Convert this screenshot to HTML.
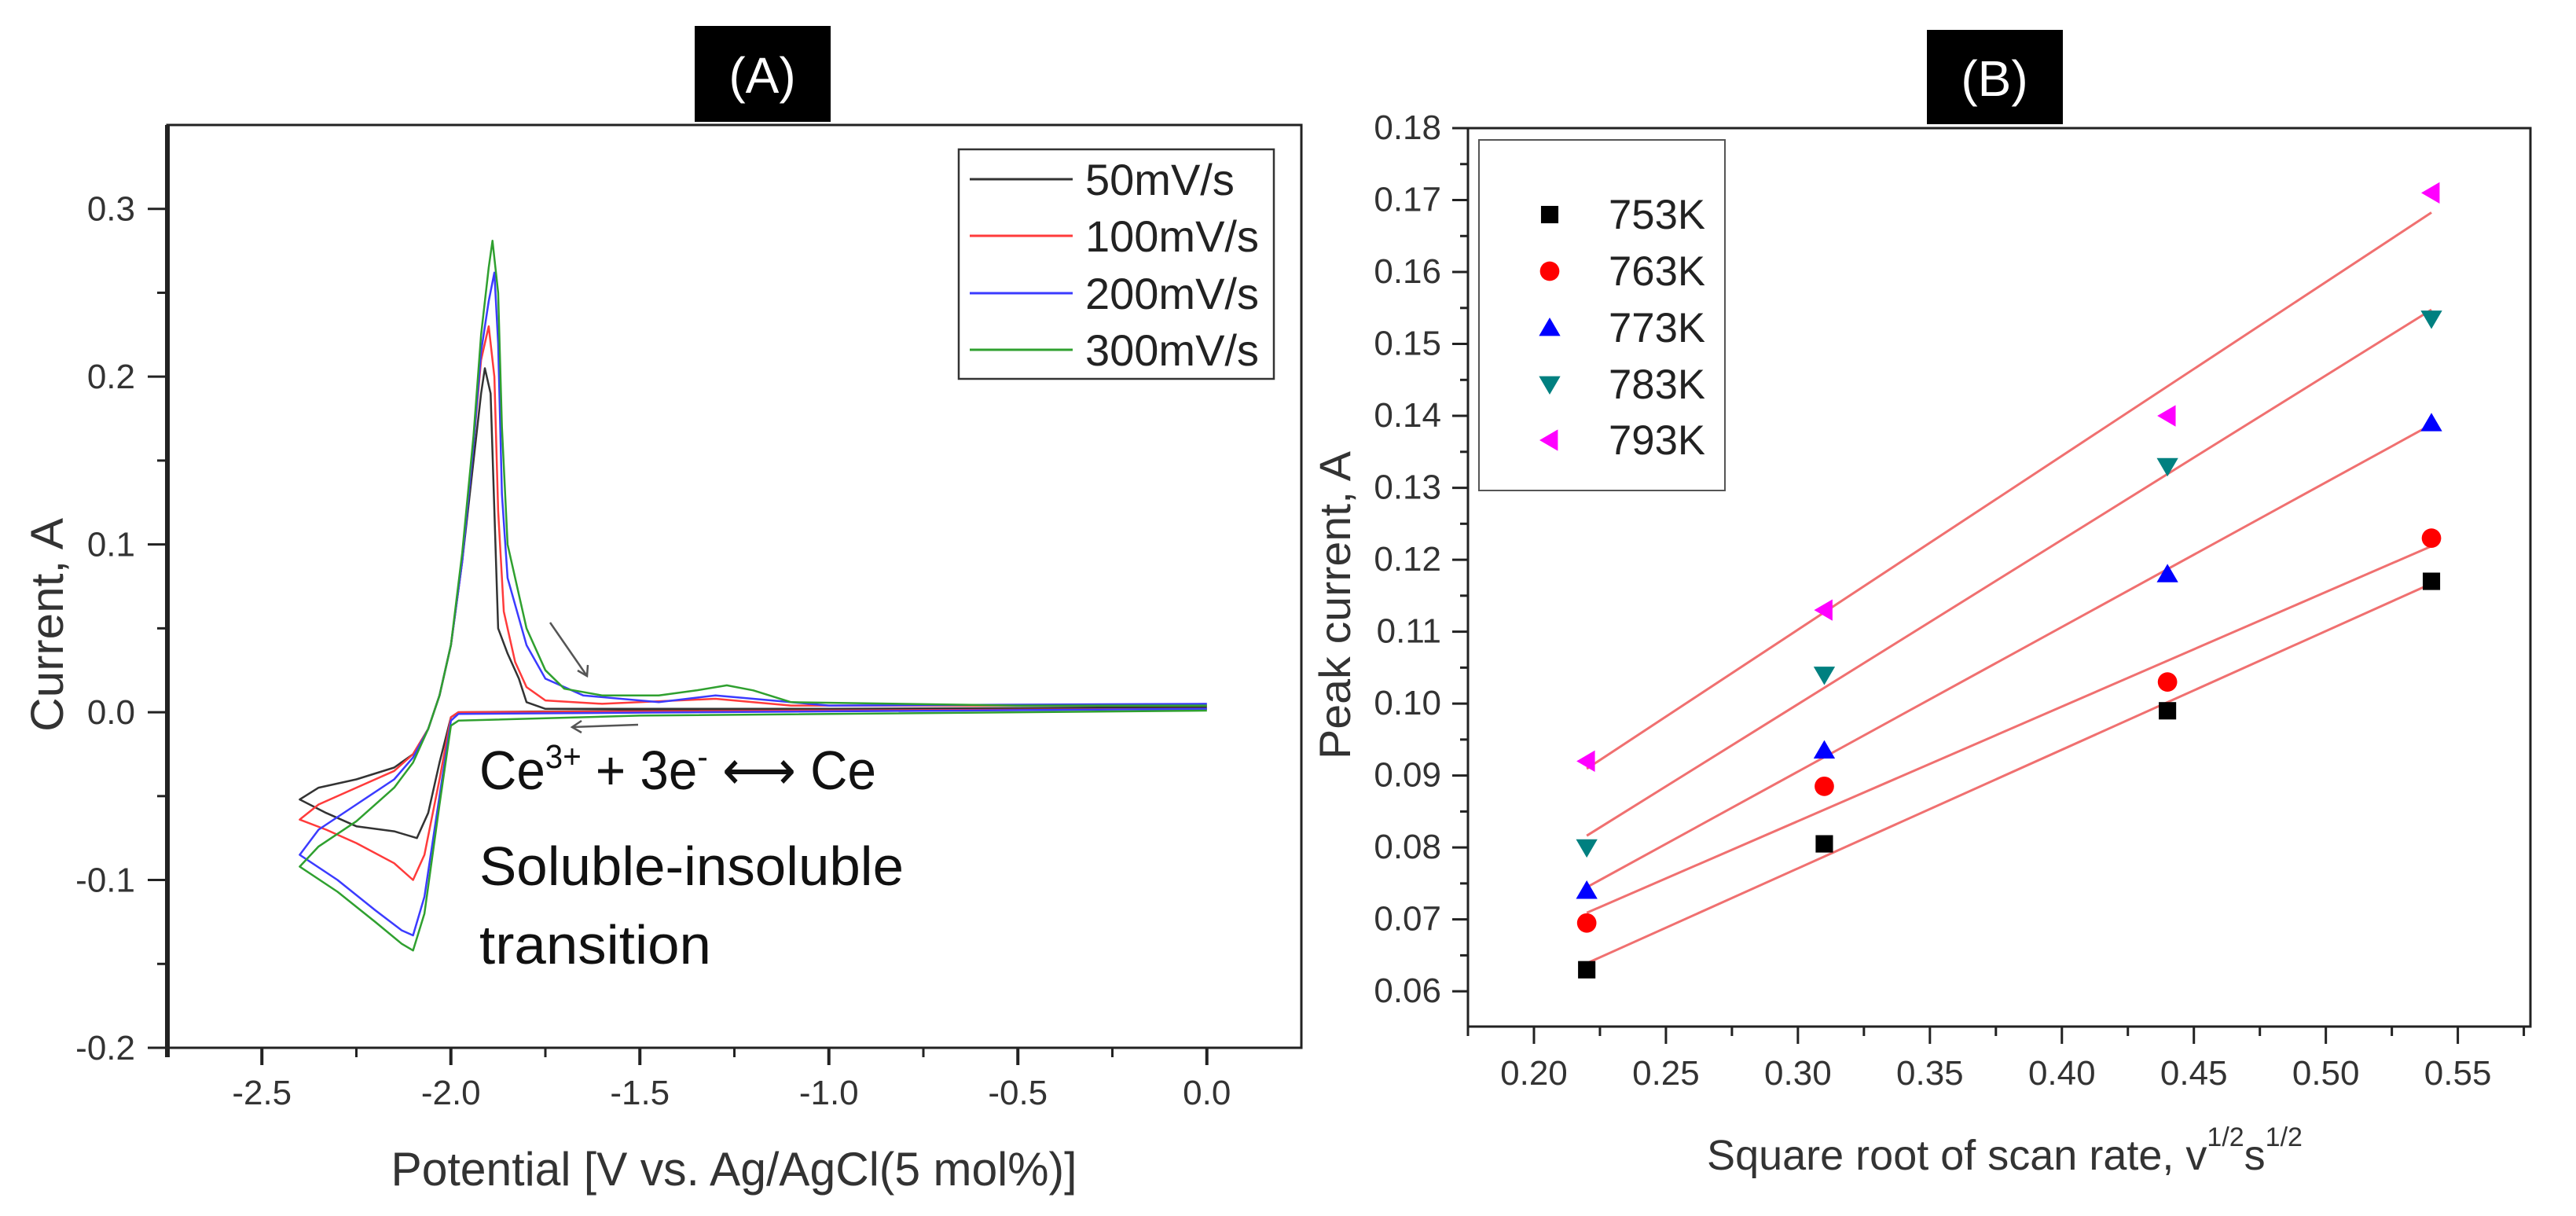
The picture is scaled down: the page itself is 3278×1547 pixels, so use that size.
<!DOCTYPE html>
<html><head><meta charset="utf-8"><style>
html,body{margin:0;padding:0;background:#fff;}
svg{display:block;font-family:"Liberation Sans",Arial,sans-serif;}
</style></head><body>
<svg id="fig" width="3278" height="1547" viewBox="0 0 3278 1547" xmlns="http://www.w3.org/2000/svg">
<g>
<rect x="884" y="33" width="173" height="122" fill="#000"/>
<text x="970" y="118" font-size="64" fill="#fff" text-anchor="middle">(A)</text>
</g>
<g>
<rect x="2452" y="38" width="173" height="120" fill="#000"/>
<text x="2538" y="122" font-size="64" fill="#fff" text-anchor="middle">(B)</text>
</g>
<g id="chartA"></g>
<g id="chartB"></g>
</svg>
<script>
// ---------- Panel A data ----------
const cvRates = ["50mV/s","100mV/s","200mV/s","300mV/s"];
const cvColors = ["#333333","#ff3b3b","#3b3bff","#2fa02f"];
const cv50 = [[0,0.002],[-1.5,0.001],[-1.98,0.0],[-2.0,-0.003],[-2.03,-0.03],[-2.06,-0.06],[-2.09,-0.075],[-2.15,-0.071],[-2.25,-0.068],[-2.33,-0.06],[-2.4,-0.052],
 [-2.35,-0.045],[-2.25,-0.04],[-2.15,-0.033],[-2.1,-0.025],[-2.06,-0.01],[-2.03,0.01],[-2.0,0.04],[-1.97,0.09],[-1.94,0.15],[-1.92,0.19],[-1.91,0.205],[-1.895,0.19],[-1.885,0.12],[-1.875,0.05],[-1.85,0.035],[-1.82,0.02],[-1.8,0.006],[-1.75,0.002],[-1.0,0.002],[0,0.003]];
const cv100 = [[0,0.002],[-1.98,0],[-2.0,-0.003],[-2.03,-0.04],[-2.07,-0.085],[-2.1,-0.1],[-2.15,-0.09],[-2.25,-0.078],[-2.33,-0.07],[-2.4,-0.064],
 [-2.35,-0.055],[-2.25,-0.045],[-2.15,-0.035],[-2.1,-0.025],[-2.06,-0.01],[-2.03,0.01],[-2.0,0.04],[-1.97,0.09],[-1.94,0.16],[-1.92,0.21],[-1.9,0.23],[-1.885,0.2],[-1.875,0.12],[-1.86,0.06],[-1.83,0.03],[-1.8,0.015],[-1.75,0.007],[-1.6,0.005],[-1.3,0.008],[-1.1,0.004],[0,0.004]];
const cv200 = [[0,0.002],[-1.98,-0.001],[-2.0,-0.005],[-2.03,-0.05],[-2.07,-0.11],[-2.1,-0.133],[-2.13,-0.13],[-2.2,-0.118],[-2.3,-0.1],[-2.4,-0.085],
 [-2.35,-0.07],[-2.25,-0.055],[-2.15,-0.04],[-2.1,-0.027],[-2.06,-0.01],[-2.03,0.01],[-2.0,0.04],[-1.97,0.09],[-1.94,0.16],[-1.92,0.215],[-1.9,0.245],[-1.885,0.262],[-1.875,0.22],[-1.865,0.13],[-1.85,0.08],[-1.8,0.04],[-1.75,0.02],[-1.65,0.01],[-1.45,0.006],[-1.3,0.01],[-1.2,0.008],[-1.0,0.004],[0,0.005]];
const cv300 = [[0,0.001],[-1.5,-0.002],[-1.98,-0.005],[-2.0,-0.008],[-2.03,-0.055],[-2.07,-0.12],[-2.1,-0.142],[-2.13,-0.138],[-2.2,-0.125],[-2.3,-0.107],[-2.4,-0.092],
 [-2.35,-0.08],[-2.25,-0.065],[-2.15,-0.045],[-2.1,-0.03],[-2.06,-0.01],[-2.03,0.01],[-2.0,0.04],[-1.97,0.095],[-1.94,0.165],[-1.92,0.225],[-1.9,0.265],[-1.89,0.281],[-1.875,0.25],[-1.865,0.17],[-1.85,0.1],[-1.8,0.05],[-1.75,0.025],[-1.7,0.014],[-1.6,0.01],[-1.45,0.01],[-1.35,0.013],[-1.27,0.016],[-1.2,0.013],[-1.1,0.006],[-0.5,0.004],[0,0.004]];
const cvXTicks = [-2.5,-2.0,-1.5,-1.0,-0.5,0.0];
const cvXTickLabels = ["-2.5","-2.0","-1.5","-1.0","-0.5","0.0"];
const cvYTicks = [-0.2,-0.1,0.0,0.1,0.2,0.3];
const cvYTickLabels = ["-0.2","-0.1","0.0","0.1","0.2","0.3"];

// ---------- Panel B data ----------
const tempLabels = ["753K","763K","773K","783K","793K"];
const scanRoots = [0.22,0.31,0.44,0.54];
const ip753 = [0.063,0.0805,0.099,0.117];
const ip763 = [0.0695,0.0885,0.103,0.123];
const ip773 = [0.074,0.0935,0.118,0.139];
const ip783 = [0.080,0.104,0.133,0.1535];
const ip793 = [0.092,0.113,0.140,0.171];
const bXTicks = [0.20,0.25,0.30,0.35,0.40,0.45,0.50,0.55];
const bXTickLabels = ["0.20","0.25","0.30","0.35","0.40","0.45","0.50","0.55"];
const bYTicks = [0.06,0.07,0.08,0.09,0.10,0.11,0.12,0.13,0.14,0.15,0.16,0.17,0.18];
const bYTickLabels = ["0.06","0.07","0.08","0.09","0.10","0.11","0.12","0.13","0.14","0.15","0.16","0.17","0.18"];

const NS="http://www.w3.org/2000/svg";
function mk(parent,tag,attrs,text){const e=document.createElementNS(NS,tag);for(const k in attrs)e.setAttribute(k,attrs[k]);if(text!==undefined)e.textContent=text;parent.appendChild(e);return e;}

// ===== Panel A =====
const A={L:213,R:1656,T:159,B:1333,x0:-2.75,x1:0.25,y0:-0.2,y1:0.35};
const ax=v=>A.L+(v-A.x0)/(A.x1-A.x0)*(A.R-A.L);
const ay=v=>A.B-(v-A.y0)/(A.y1-A.y0)*(A.B-A.T);
const gA=document.getElementById('chartA');
let e;
e=mk(gA,'rect',{x:A.L,y:A.T,width:A.R-A.L,height:A.B-A.T,fill:'none',stroke:'#222','stroke-width':3});


e=mk(gA,'line',{x1:A.L,y1:A.T,x2:A.L,y2:A.B+12,stroke:'#222','stroke-width':6});


cvYTicks.forEach((v,i)=>{
  const y=ay(v);
  const t=mk(gA,'line',{x1:A.L-25,y1:y,x2:A.L,y2:y,stroke:'#222','stroke-width':3});
  
  
  const lb=mk(gA,'text',{x:172,y:y+15,'font-size':44,'text-anchor':'end',fill:'#333'},cvYTickLabels[i]);
  
  
  if(v+0.05<A.y1){const ym=ay(v+0.05);
    const m=mk(gA,'line',{x1:A.L-13,y1:ym,x2:A.L,y2:ym,stroke:'#222','stroke-width':3});
    
    }
});
cvXTicks.forEach((v,i)=>{
  const x=ax(v);
  const t=mk(gA,'line',{x1:x,y1:A.B,x2:x,y2:A.B+22,stroke:'#222','stroke-width':4});
  
  
  const lb=mk(gA,'text',{x:x,y:1405,'font-size':44,'text-anchor':'middle',fill:'#333'},cvXTickLabels[i]);
  
  
  [v-0.25].forEach(vm=>{if(vm>A.x0){const xm=ax(vm);
    const m=mk(gA,'line',{x1:xm,y1:A.B,x2:xm,y2:A.B+12,stroke:'#222','stroke-width':3});
    
    }});
});
e=mk(gA,'text',{x:934,y:1508,'font-size':60,'text-anchor':'middle',fill:'#333',textLength:873,lengthAdjust:'spacingAndGlyphs'},'Potential [V vs. Ag/AgCl(5 mol%)]');


e=mk(gA,'text',{x:0,y:0,'font-size':58,'text-anchor':'middle',fill:'#333',transform:'translate(80,795) rotate(-90)',textLength:272,lengthAdjust:'spacingAndGlyphs'},'Current, A');


const cvSeries=[cv50,cv100,cv200,cv300];
cvSeries.forEach((s,i)=>{
  const d=s.map((p,j)=>(j?'L':'M')+ax(p[0]).toFixed(1)+' '+ay(p[1]).toFixed(1)).join(' ');
  const p=mk(gA,'path',{d:d,fill:'none',stroke:cvColors[i],'stroke-width':2.5,'stroke-linejoin':'round'});
  
  
});
// arrows
e=mk(gA,'g',{stroke:'#555','stroke-width':2.5,fill:'none'});


mk(e,'line',{x1:700,y1:792,x2:747,y2:860});
mk(e,'path',{d:'M735 853 L747 860 L748 846'});
mk(e,'line',{x1:812,y1:922,x2:728,y2:925});
mk(e,'path',{d:'M740 917 L728 925 L740 932'});
// annotation
e=mk(gA,'text',{x:610,y:1004,'font-size':70,fill:'#111',textLength:505,lengthAdjust:'spacingAndGlyphs'});


e.innerHTML='Ce<tspan font-size="43" dy="-27">3+</tspan><tspan dy="27"> + 3e</tspan><tspan font-size="43" dy="-27">-</tspan><tspan dy="27"> ⟷ Ce</tspan>';
e=mk(gA,'text',{x:610,y:1126,'font-size':70,fill:'#111',textLength:540,lengthAdjust:'spacingAndGlyphs'},'Soluble-insoluble');


e=mk(gA,'text',{x:610,y:1226,'font-size':70,fill:'#111',textLength:295,lengthAdjust:'spacingAndGlyphs'},'transition');


// legend A
const legA=mk(gA,'g',{});


mk(legA,'rect',{x:1220,y:190,width:401,height:292,fill:'#fff',stroke:'#333','stroke-width':2.5});
const legAy=[228,300,373,445];
cvRates.forEach((r,i)=>{
  const g=mk(legA,'g',{});
  
  
  mk(g,'line',{x1:1234,y1:legAy[i],x2:1365,y2:legAy[i],stroke:cvColors[i],'stroke-width':3});
  mk(g,'text',{x:1381,y:legAy[i]+20,'font-size':56,fill:'#222'},r);
});

// ===== Panel B =====
const B={L:1868,R:3220,T:163,B:1306,x0:0.175,x1:0.5775,y0:0.0551,y1:0.18};
const bx=v=>B.L+(v-B.x0)/(B.x1-B.x0)*(B.R-B.L);
const by=v=>B.B-(v-B.y0)/(B.y1-B.y0)*(B.B-B.T);
const gB=document.getElementById('chartB');
e=mk(gB,'rect',{x:B.L,y:B.T,width:B.R-B.L,height:B.B-B.T,fill:'none',stroke:'#222','stroke-width':3});


bYTicks.forEach((v,i)=>{
  const y=by(v);
  const t=mk(gB,'line',{x1:B.L-20,y1:y,x2:B.L,y2:y,stroke:'#222','stroke-width':3});
  
  
  const lb=mk(gB,'text',{x:1834,y:y+14,'font-size':44,'text-anchor':'end',fill:'#333'},bYTickLabels[i]);
  
  
  [v-0.005].forEach(vm=>{if(vm>B.y0){const ym=by(vm);
    const m=mk(gB,'line',{x1:B.L-10,y1:ym,x2:B.L,y2:ym,stroke:'#222','stroke-width':3});
    
    }});
});
bXTicks.forEach((v,i)=>{
  const x=bx(v);
  const t=mk(gB,'line',{x1:x,y1:B.B,x2:x,y2:B.B+22,stroke:'#222','stroke-width':3});
  
  
  const lb=mk(gB,'text',{x:x,y:1380,'font-size':44,'text-anchor':'middle',fill:'#333'},bXTickLabels[i]);
  
  
  [v-0.025,v+0.025].forEach(vm=>{if(vm>B.x0&&vm<B.x1&&(i===0||vm>v)){const xm=bx(vm);
    const m=mk(gB,'line',{x1:xm,y1:B.B,x2:xm,y2:B.B+12,stroke:'#222','stroke-width':3});
    
    }});
});
e=mk(gB,'text',{x:2551,y:1488,'font-size':54,'text-anchor':'middle',fill:'#333'});


e.innerHTML='Square root of scan rate, v<tspan font-size="34" dy="-30">1/2</tspan><tspan dy="30">s</tspan><tspan font-size="34" dy="-30">1/2</tspan>';
e=mk(gB,'text',{x:0,y:0,'font-size':56,'text-anchor':'middle',fill:'#333',transform:'translate(1718,770) rotate(-90)',textLength:392,lengthAdjust:'spacingAndGlyphs'},'Peak current, A');


const ipSeries=[ip753,ip763,ip773,ip783,ip793];
const mColors=["#000000","#ff0000","#0000ff","#008080","#ff00ff"];
const mShapes=["square","circle","up","down","left"];
function marker(g,shape,x,y,c,s){
  if(shape==='square') return mk(g,'rect',{x:x-s*0.85,y:y-s*0.85,width:s*1.7,height:s*1.7,fill:c});
  if(shape==='circle') return mk(g,'circle',{cx:x,cy:y,r:s*0.95,fill:c});
  if(shape==='up') return mk(g,'polygon',{points:`${x},${y-s} ${x-s*1.05},${y+s*0.8} ${x+s*1.05},${y+s*0.8}`,fill:c});
  if(shape==='down') return mk(g,'polygon',{points:`${x},${y+s} ${x-s*1.05},${y-s*0.8} ${x+s*1.05},${y-s*0.8}`,fill:c});
  return mk(g,'polygon',{points:`${x-s},${y} ${x+s*0.8},${y-s*1.05} ${x+s*0.8},${y+s*1.05}`,fill:c});
}
ipSeries.forEach((s,i)=>{
  const n=scanRoots.length;
  const mx=scanRoots.reduce((a,b)=>a+b,0)/n, my=s.reduce((a,b)=>a+b,0)/n;
  let sxy=0,sxx=0;scanRoots.forEach((x,j)=>{sxy+=(x-mx)*(s[j]-my);sxx+=(x-mx)*(x-mx);});
  const k=sxy/sxx,b0=my-k*mx;
  const xa=scanRoots[0],xb=scanRoots[n-1];
  const fl=mk(gB,'line',{x1:bx(xa),y1:by(k*xa+b0),x2:bx(xb),y2:by(k*xb+b0),stroke:'#f07070','stroke-width':3});
  
  
  s.forEach((v,j)=>{
    const m=marker(gB,mShapes[i],bx(scanRoots[j]),by(v),mColors[i],13);
    
    
  });
});
const legB=mk(gB,'g',{});


mk(legB,'rect',{x:1882,y:178,width:313,height:446,fill:'#fff',stroke:'#555','stroke-width':2});
const legBy=[273,345,417,489,560];
tempLabels.forEach((t,i)=>{
  const g=mk(legB,'g',{});
  
  
  marker(g,mShapes[i],1972,legBy[i],mColors[i],13);
  mk(g,'text',{x:2047,y:legBy[i]+18,'font-size':53,fill:'#222',textLength:123,lengthAdjust:'spacingAndGlyphs'},t);
});
</script>
</body></html>
